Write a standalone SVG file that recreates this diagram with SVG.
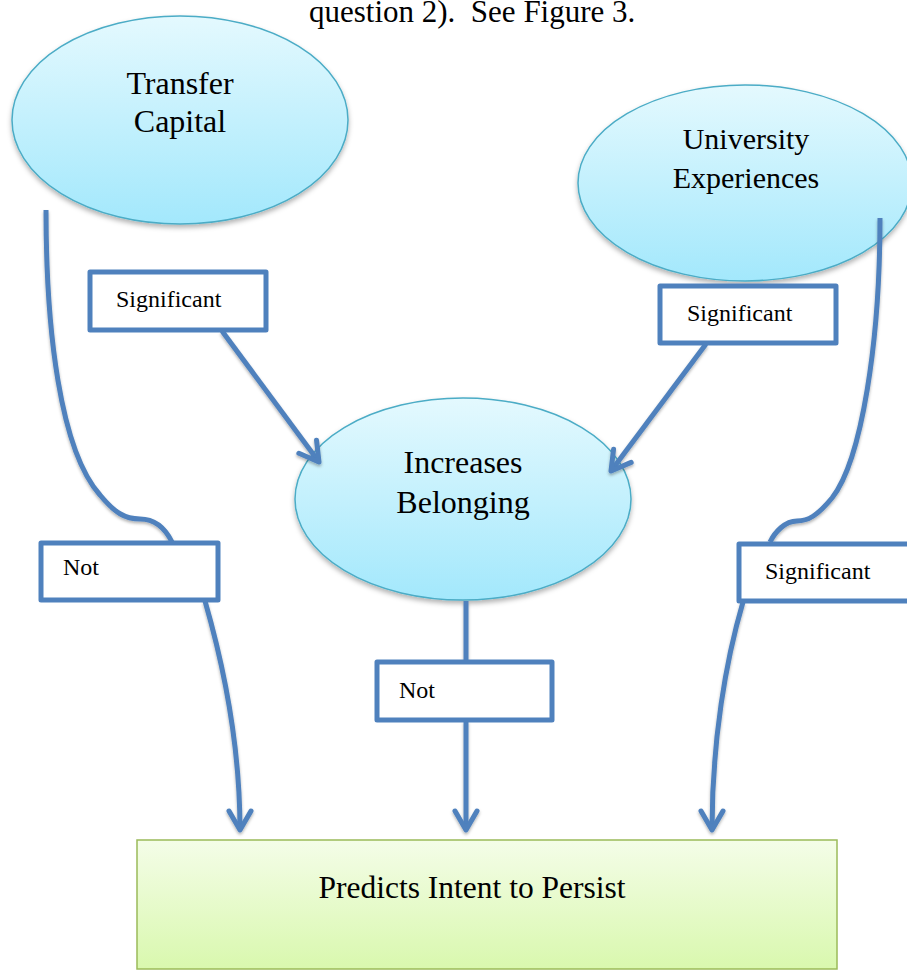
<svg xmlns="http://www.w3.org/2000/svg" width="907" height="971" viewBox="0 0 907 971">
<defs>
<linearGradient id="blueGrad" x1="0" y1="0" x2="0" y2="1">
<stop offset="0" stop-color="#E4F9FE"/>
<stop offset="1" stop-color="#A3E8FC"/>
</linearGradient>
<linearGradient id="greenGrad" x1="0" y1="0" x2="0" y2="1">
<stop offset="0" stop-color="#F4FDE8"/>
<stop offset="1" stop-color="#D9F8AE"/>
</linearGradient>
<filter id="shadow" x="-10%" y="-10%" width="120%" height="130%">
<feDropShadow dx="0" dy="3" stdDeviation="2.5" flood-color="#000" flood-opacity="0.3"/>
</filter>
<filter id="lshadow" filterUnits="userSpaceOnUse" x="0" y="0" width="907" height="971">
<feDropShadow dx="0" dy="2" stdDeviation="1.5" flood-color="#000" flood-opacity="0.3"/>
</filter>
<marker id="arrow" markerUnits="userSpaceOnUse" orient="auto" markerWidth="40" markerHeight="40" refX="0" refY="0" viewBox="-25 -20 40 40" overflow="visible">
<path d="M -19 -11 L 0 0 L -19 11" fill="none" stroke="#4F81BD" stroke-width="5" stroke-linecap="round" stroke-linejoin="round"/>
</marker>
</defs>
<style>
.ell { fill: url(#blueGrad); stroke: #4BACC6; stroke-width: 1.5; filter: url(#shadow); }
.big { font-family: "Liberation Serif", "Times New Roman", serif; font-size: 30px; fill: #000; text-anchor: middle; }
.b32 { font-size: 32px; }
.lbl { font-family: "Liberation Serif", "Times New Roman", serif; font-size: 24px; fill: #000; }
.box { fill: #FFFFFF; stroke: #4F81BD; stroke-width: 5; stroke-linejoin: round; }
.conn { fill: none; stroke: #4F81BD; stroke-width: 5; filter: url(#lshadow); }
.hdr { font-family: "Liberation Serif", "Times New Roman", serif; font-size: 31px; fill: #000; }
</style>

<text class="hdr" x="309" y="22" xml:space="preserve">question 2).  See Figure 3.</text>

<g id="transfer-capital">
<ellipse class="ell" cx="180" cy="120" rx="168" ry="104"/>
<text class="big b32" x="180" y="94">Transfer</text>
<text class="big b32" x="180" y="132">Capital</text>
</g>

<g id="university-experiences">
<ellipse class="ell" cx="745" cy="183" rx="167" ry="98"/>
<text class="big" x="746" y="149">University</text>
<text class="big" x="746" y="188">Experiences</text>
</g>

<g id="increases-belonging">
<ellipse class="ell" cx="463" cy="499" rx="168" ry="101"/>
<text class="big b32" x="463" y="473">Increases</text>
<text class="big b32" x="463" y="513">Belonging</text>
</g>

<g id="predicts-intent">
<rect x="137" y="840" width="700" height="129" fill="url(#greenGrad)" stroke="#9BBB59" stroke-width="1.5"/>
<text class="big" x="472" y="898" style="font-size:31.5px">Predicts Intent to Persist</text>
</g>

<g id="connectors">
<path class="conn" d="M 46 210 C 46 330 60 450 100 495 C 115 513 125 519 140 519 C 155 519 165 528 172 542"/>
<path class="conn" d="M 205 601 C 222 660 240 740 240 830" marker-end="url(#arrow)"/>
<path class="conn" d="M 880 218 C 880 340 862 460 832 498 C 817 516 808 521 797 521 C 785 521 775 532 770 542"/>
<path class="conn" d="M 743 602 C 726 660 712 740 712 830" marker-end="url(#arrow)"/>
<path class="conn" d="M 466 601 L 466 661"/>
<path class="conn" d="M 466 721 L 466 830" marker-end="url(#arrow)"/>
<path class="conn" d="M 222 331 L 319 462" marker-end="url(#arrow)"/>
<path class="conn" d="M 706 344 L 611 471" marker-end="url(#arrow)"/>
</g>

<g id="label-sig-left">
<rect class="box" x="90" y="272" width="176" height="58"/>
<text class="lbl" x="116" y="307">Significant</text>
</g>
<g id="label-sig-right-top">
<rect class="box" x="660" y="286" width="176" height="57"/>
<text class="lbl" x="687" y="321">Significant</text>
</g>
<g id="label-not-left">
<rect class="box" x="41" y="543" width="177" height="57"/>
<text class="lbl" x="63" y="575">Not</text>
</g>
<g id="label-sig-right-bottom">
<rect class="box" x="739" y="544" width="176" height="57"/>
<text class="lbl" x="765" y="579">Significant</text>
</g>
<g id="label-not-middle">
<rect class="box" x="377" y="662" width="175" height="58"/>
<text class="lbl" x="399" y="698">Not</text>
</g>
</svg>
